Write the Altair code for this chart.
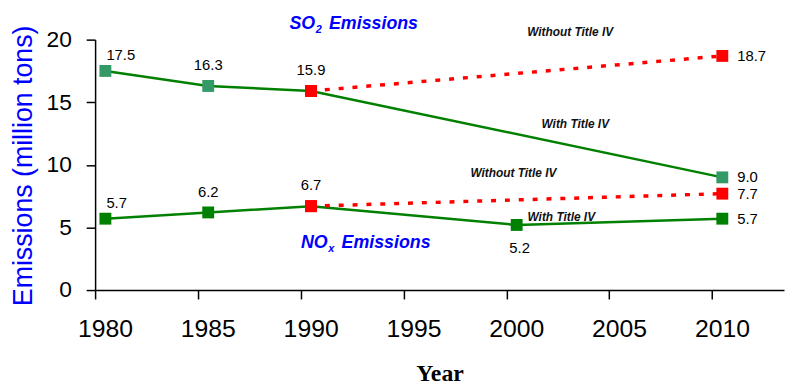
import altair as alt
import pandas as pd

# ---- data ----
years = [1980, 1985, 1990, 2000, 2010]
so2_with = [17.5, 16.3, 15.9, None, 9.0]
nox_with = [5.7, 6.2, 6.7, 5.2, 5.7]
so2_without = [None, None, 15.9, None, 18.7]
nox_without = [None, None, 6.7, None, 7.7]

x_ticks = [1980, 1985, 1990, 1995, 2000, 2005, 2010]
y_ticks = [0, 5, 10, 15, 20]

ann_text = ["Without Title IV", "With Title IV", "Without Title IV", "With Title IV"]
ann_x = [2003.1, 2003.35, 2000.34, 2002.67]
ann_y = [20.6, 13.28, 9.33, 5.85]

title_main = ["SO", "NO"]
title_sub = ["2", "x"]
title_x = [1990.70, 1991.31]
title_y = [20.81, 3.32]

rows = []
for pol, scen, vals in [("SO2", "with", so2_with), ("NOx", "with", nox_with),
                        ("SO2", "without", so2_without), ("NOx", "without", nox_without)]:
    for yr, v in zip(years, vals):
        if v is None:
            continue
        marker = "red" if (scen == "without" or yr == 1990) else pol
        if scen == "without" and yr == 1990:
            place = "none"
        elif yr == 1980:
            place = "left"
        elif yr == 2010:
            place = "right"
        elif yr == 2000:
            place = "below"
        else:
            place = "above"
        rows.append(dict(pollutant=pol, scenario=scen, year=yr, value=v,
                         marker=marker, place=place, label=f"{v:.1f}"))
df = pd.DataFrame(rows)

ann_df = pd.DataFrame({"text": ann_text, "xpos": ann_x, "value": ann_y})
ttl_df = pd.DataFrame({"main": title_main, "sub": title_sub, "xpos": title_x, "value": title_y})

FONT = "Liberation Sans"

xscale = alt.Scale(domain=[1980, 2013.5], nice=False, zero=False)
yscale = alt.Scale(domain=[0, 20], nice=False)

X = alt.X("xpos:Q", scale=xscale, axis=alt.Axis(
    values=x_ticks, format="d", title="Year", grid=False,
    labelFontSize=25, labelFont=FONT, labelColor="black", labelFlush=False,
    labelOffset=10, labelPadding=18, tickSize=9,
    titleFont="Liberation Serif", titleFontSize=24, titleFontWeight="bold",
    titleColor="black", titleY=91, titleBaseline="alphabetic"))
Y = alt.Y("value:Q", scale=yscale, axis=alt.Axis(
    values=y_ticks, title="Emissions (million tons)", grid=False,
    labelFontSize=23, labelFont=FONT, labelColor="black",
    labelPadding=15, tickSize=9,
    titleFont=FONT, titleFontSize=27, titleFontWeight="normal", titleColor="#0000ff",
    titleAngle=270, titleX=-72, titleY=127, titleBaseline="middle", titleAlign="center"))

base = alt.Chart(df).transform_calculate(xpos="datum.year + 0.5")

line_with = base.transform_filter("datum.scenario == 'with'").mark_line(
    color="#008000", strokeWidth=2.5).encode(x=X, y=Y, detail="pollutant:N")
line_without = base.transform_filter("datum.scenario == 'without'").mark_line(
    color="#ff0000", strokeWidth=3.5, strokeDash=[5, 9]).encode(x=X, y=Y, detail="pollutant:N")

points = base.mark_point(shape="square", filled=True, size=144, opacity=1).encode(
    x=X, y=Y,
    color=alt.Color("marker:N", scale=alt.Scale(domain=["SO2", "NOx", "red"],
                                                range=["#339966", "#008000", "#ff0000"]),
                    legend=None))

def labels(place, **kw):
    return base.transform_filter(f"datum.place == '{place}'").mark_text(
        font=FONT, fontSize=15, color="black", **kw).encode(x=X, y=Y, text="label:N")

lab_left = labels("left", align="left", baseline="middle", dx=1, dy=-16)
lab_above = labels("above", align="center", baseline="middle", dy=-21)
lab_below = labels("below", align="center", baseline="middle", dx=3, dy=23)
lab_right = labels("right", align="left", baseline="middle", dx=15)

ann = alt.Chart(ann_df).mark_text(
    font=FONT, fontSize=12, fontStyle="italic", fontWeight="bold", color="#111111",
    align="center", baseline="middle").encode(x=X, y=Y, text="text:N")

ttl_main = alt.Chart(ttl_df).mark_text(
    font=FONT, fontSize=18, fontStyle="italic", fontWeight="bold", color="#0000ff",
    align="right", baseline="alphabetic").encode(x=X, y=Y, text="main:N")
ttl_sub = alt.Chart(ttl_df).mark_text(
    font=FONT, fontSize=11, fontStyle="italic", fontWeight="bold", color="#0000ff",
    align="left", baseline="alphabetic", dx=0.5, dy=4).encode(x=X, y=Y, text="sub:N")
ttl_rest = alt.Chart(ttl_df).mark_text(
    font=FONT, fontSize=18, fontStyle="italic", fontWeight="bold", color="#0000ff",
    align="left", baseline="alphabetic", dx=14).encode(x=X, y=Y, text=alt.value("Emissions"))

chart = alt.layer(
    line_with, line_without, points, lab_left, lab_above, lab_below, lab_right,
    ann, ttl_main, ttl_sub, ttl_rest
).properties(
    width=696, height=253,
    autosize=alt.AutoSizeParams(type="none"),
    padding={"left": 88, "top": 30, "right": 1, "bottom": 98},
).configure_view(stroke=None).configure_axis(
    domainColor="black", domainWidth=1.5, tickColor="black", tickWidth=1.5)

chart.save("out.html", embed_options={"renderer": "svg", "actions": False})
